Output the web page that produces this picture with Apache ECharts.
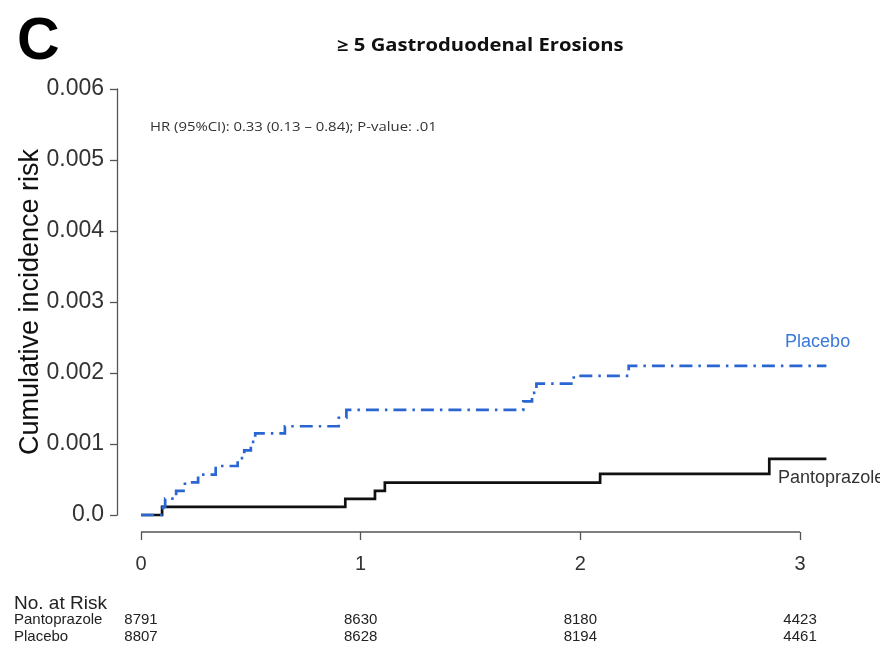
<!DOCTYPE html>
<html>
<head>
<meta charset="utf-8">
<script src="https://cdn.jsdelivr.net/npm/echarts@6/dist/echarts.min.js"></script>
<style>
  html, body { margin: 0; padding: 0; background: #ffffff; }
  #chart { width: 880px; height: 650px; }
</style>
</head>
<body>
<div id="chart"></div>
<script>
// Follow-up time (years) and cumulative incidence, step estimates
const xTickValues = [0, 1, 2, 3];
const yTickValues = [0, 0.001, 0.002, 0.003, 0.004, 0.005, 0.006];
const followUpEnd = 3.12;

const pantoprazoleTime = [0, 0.096, 0.93, 1.065, 1.11, 2.09, 2.86, 3.12];
const pantoprazoleRisk = [0, 0.000114, 0.000228, 0.00034, 0.000455, 0.00058, 0.00079, 0.00079];

const placeboTime = [0, 0.1, 0.11, 0.16, 0.2, 0.26, 0.34, 0.44, 0.47, 0.5, 0.52, 0.655, 0.9, 0.935, 1.74, 1.78, 1.8, 1.97, 2.22, 3.12];
const placeboRisk = [0, 0.000114, 0.00023, 0.00034, 0.00046, 0.00057, 0.00069, 0.0008, 0.00091, 0.00103, 0.00115, 0.00125, 0.00137, 0.00148, 0.0016, 0.00172, 0.00185, 0.00196, 0.0021, 0.0021];

// Numbers at risk table
const riskTimes = [0, 1, 2, 3];
const riskPantoprazole = [8791, 8630, 8180, 4423];
const riskPlacebo = [8807, 8628, 8194, 4461];

const titleText = '\u2265 5 Gastroduodenal Erosions';
const panelLetter = 'C';
const hrText = 'HR (95%CI): 0.33 (0.13 \u2013 0.84); P-value: .01';
const yName = 'Cumulative incidence risk';

const BLUE = '#2a66d2';
const AXIS = '#555555';
const TXT = '#333333';
const SANS = '"Liberation Sans", Arial, Helvetica, sans-serif';
const X_OFFSET = 17;

const zip = (xs, ys) => xs.map((x, i) => [x, ys[i]]);

const chart = echarts.init(document.getElementById('chart'), null, { renderer: 'canvas' });

chart.setOption({
  animation: false,
  backgroundColor: '#ffffff',
  grid: { left: 141, right: 53.6, top: 89, bottom: 135, containLabel: false },
  xAxis: {
    type: 'value', min: 0, max: followUpEnd, offset: X_OFFSET,
    axisLine: { show: false, onZero: false },
    axisTick: { show: true, length: 8, customValues: xTickValues, lineStyle: { color: AXIS, width: 1.3 } },
    axisLabel: { margin: 22, fontFamily: SANS, fontSize: 20, color: TXT,
      customValues: xTickValues, formatter: v => String(v) },
    splitLine: { show: false }
  },
  yAxis: {
    type: 'value', min: 0, max: 0.006, interval: 0.001, offset: 24,
    axisLine: { show: true, onZero: false, lineStyle: { color: AXIS, width: 1.3 } },
    axisTick: { show: true, length: 7, lineStyle: { color: AXIS, width: 1.3 } },
    axisLabel: { margin: 13, fontFamily: SANS, fontSize: 23, color: TXT,
      formatter: v => (v === 0 ? '0.0' : v.toFixed(3)) },
    splitLine: { show: false }
  },
  series: [
    {
      name: 'Pantoprazole', type: 'line', step: 'end', showSymbol: false, clip: false,
      data: zip(pantoprazoleTime, pantoprazoleRisk),
      lineStyle: { color: '#111111', width: 2.7, cap: 'butt', join: 'miter' },
      z: 3
    },
    {
      name: 'Placebo', type: 'line', step: 'end', showSymbol: false, clip: false,
      data: zip(placeboTime, placeboRisk),
      lineStyle: { color: BLUE, width: 2.7, type: [13, 6, 2.5, 6], cap: 'butt', join: 'miter' },
      z: 4
    }
  ]
});

// Annotations placed from data coordinates
const px = (x, y) => chart.convertToPixel({ gridIndex: 0 }, [x, y]);
const graphics = [];

// x axis line spans the labelled range 0..3 only
const a0 = px(xTickValues[0], 0);
const a1 = px(xTickValues[xTickValues.length - 1], 0);
graphics.push({ type: 'line', z: 5,
  shape: { x1: a0[0], y1: a0[1] + X_OFFSET, x2: a1[0], y2: a1[1] + X_OFFSET },
  style: { stroke: AXIS, lineWidth: 1.3 } });

graphics.push({ type: 'text', left: 17, top: 13,
  style: { text: panelLetter, font: 'bold 59px ' + SANS, fill: '#000' } });

graphics.push({ type: 'text', x: 337, y: 46, scaleX: 1.19,
  style: { text: titleText, font: 'bold 17px "Open Sans", sans-serif', fill: '#111', verticalAlign: 'middle' } });

graphics.push({ type: 'text', x: 150, y: 128, scaleX: 1.24,
  style: { text: hrText, font: '12px "Open Sans", sans-serif', fill: TXT, verticalAlign: 'middle' } });

graphics.push({ type: 'text', x: 31, y: 302, rotation: Math.PI / 2,
  style: { text: yName, font: '27px ' + SANS, fill: '#111', align: 'center', verticalAlign: 'middle' } });

const pl = px(3.08, 0.00244);
graphics.push({ type: 'text', x: pl[0], y: pl[1],
  style: { text: 'Placebo', font: '18px ' + SANS, fill: '#3a78d8', align: 'center', verticalAlign: 'middle' } });
const pa = px(2.9, 0.00052);
graphics.push({ type: 'text', x: pa[0], y: pa[1],
  style: { text: 'Pantoprazole', font: '18px ' + SANS, fill: TXT, align: 'left', verticalAlign: 'middle' } });

// Risk table
graphics.push({ type: 'text', x: 14, y: 604,
  style: { text: 'No. at Risk', font: '19px ' + SANS, fill: '#222', verticalAlign: 'middle' } });
graphics.push({ type: 'text', x: 14, y: 620,
  style: { text: 'Pantoprazole', font: '15px ' + SANS, fill: '#222', verticalAlign: 'middle' } });
graphics.push({ type: 'text', x: 14, y: 637,
  style: { text: 'Placebo', font: '15px ' + SANS, fill: '#222', verticalAlign: 'middle' } });
riskTimes.forEach((t, i) => {
  const cx = px(t, 0)[0];
  graphics.push({ type: 'text', x: cx, y: 620,
    style: { text: String(riskPantoprazole[i]), font: '15px ' + SANS, fill: '#222', align: 'center', verticalAlign: 'middle' } });
  graphics.push({ type: 'text', x: cx, y: 637,
    style: { text: String(riskPlacebo[i]), font: '15px ' + SANS, fill: '#222', align: 'center', verticalAlign: 'middle' } });
});

chart.setOption({ graphic: graphics });
</script>
</body>
</html>
